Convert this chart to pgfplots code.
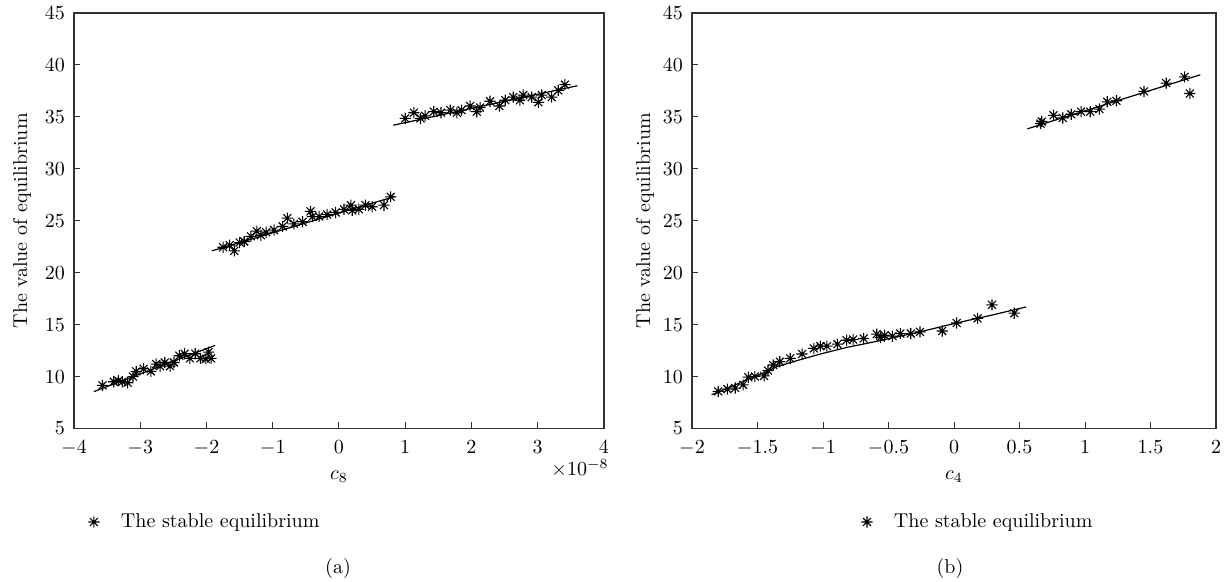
\documentclass[border=0pt]{standalone}
\usepackage{pgfplots}
\pgfplotsset{compat=1.18}
\pgfdeclareplotmark{ast8}{%
  \pgfpathmoveto{\pgfpoint{-\pgfplotmarksize}{0pt}}\pgfpathlineto{\pgfpoint{\pgfplotmarksize}{0pt}}%
  \pgfpathmoveto{\pgfpoint{0pt}{-\pgfplotmarksize}}\pgfpathlineto{\pgfpoint{0pt}{\pgfplotmarksize}}%
  \pgfpathmoveto{\pgfpoint{-0.707\pgfplotmarksize}{-0.707\pgfplotmarksize}}\pgfpathlineto{\pgfpoint{0.707\pgfplotmarksize}{0.707\pgfplotmarksize}}%
  \pgfpathmoveto{\pgfpoint{-0.707\pgfplotmarksize}{0.707\pgfplotmarksize}}\pgfpathlineto{\pgfpoint{0.707\pgfplotmarksize}{-0.707\pgfplotmarksize}}%
  \pgfusepathqstroke}
\pgfplotsset{
  eqax/.style={
    scale only axis, height=207.75pt, anchor=south west,
    ymin=5, ymax=45, ytick={5,10,...,45},
    xtick pos=bottom, ytick pos=left, tick align=inside,
    major tick length=3pt,
    axis line style={line width=0.6pt, black!80},
    every tick/.style={black!80, line width=0.5pt},
    xticklabel style={yshift=-2.5pt},
    yticklabel style={xshift=-1pt},
    ylabel={The value of equilibrium},
    ylabel style={at={(axis description cs:0,0.5)}, anchor=center},
    xlabel style={at={(axis description cs:0.5,0)}, anchor=center, yshift=-24.25pt},
    legend style={draw=none, fill=none, anchor=west, font=\normalsize},
    legend cell align=left,
    legend image code/.code={%
      \draw[#1, only marks] plot coordinates {(0pt,0pt)};
      \path[draw=none, fill=none] (-2.8pt,0pt) -- (11.5pt,0pt);},
  },
  pts/.style={only marks, mark=ast8, mark size=2.8pt, mark options={line width=0.55pt, black}},
  fit/.style={black, line width=0.6pt, no marks},
}
\begin{document}
\begin{tikzpicture}
\useasboundingbox (0,0) rectangle (614.5pt,291pt);
% ---------- (a)
\begin{axis}[eqax, at={(37pt,76.75pt)}, width=265pt,
  xmin=-4, xmax=4, xtick={-4,-3,...,4},
  xlabel={$c_8$},
  ylabel style={yshift=26pt},
  legend style={at={(axis description cs:0.015,-0.225)}}]
\addplot[pts] coordinates {
(-3.57,9.15) (-3.40,9.5) (-3.33,9.6) (-3.27,9.5) (-3.19,9.4) (-3.11,10.0) (-3.06,10.5)
(-2.95,10.75) (-2.84,10.5) (-2.76,11.2) (-2.70,11.0) (-2.63,11.35) (-2.55,11.0) (-2.49,11.35)
(-2.41,12.0) (-2.33,12.2) (-2.25,11.75) (-2.17,12.2) (-2.09,11.75) (-2.01,11.7) (-1.97,12.35) (-1.93,11.75)
(-1.75,22.45) (-1.65,22.65) (-1.58,22.1) (-1.50,22.9) (-1.43,23.0) (-1.33,23.5) (-1.24,24.0)
(-1.18,23.6) (-1.10,23.9) (-0.98,24.1) (-0.85,24.45) (-0.78,25.25) (-0.68,24.7) (-0.55,24.9)
(-0.43,25.9) (-0.40,25.4) (-0.30,25.4) (-0.18,25.6) (-0.05,25.8) (0.075,26.1) (0.18,26.5)
(0.20,26.0) (0.30,26.1) (0.40,26.5) (0.50,26.35) (0.68,26.5) (0.78,27.3)
(1.00,34.85) (1.13,35.4) (1.23,34.85) (1.30,35.1) (1.43,35.5) (1.54,35.4) (1.68,35.65)
(1.78,35.4) (1.85,35.65) (1.98,36.05) (2.08,35.5) (2.13,35.9) (2.28,36.5) (2.42,36.05)
(2.51,36.6) (2.63,36.9) (2.73,36.6) (2.78,37.1) (2.91,36.9) (3.01,36.4) (3.06,37.1)
(3.21,36.9) (3.31,37.55) (3.41,38.1)
};
\addlegendentry{The stable equilibrium}
\addplot[fit, forget plot] coordinates {(-3.70,8.55) (-1.87,13.0)};
\addplot[fit, forget plot] coordinates {(-1.92,22.1) (0.85,27.35)};
\addplot[fit, forget plot] coordinates {(0.82,34.2) (3.60,38.0)};
\end{axis}
\node at (290pt,57pt) {$\times 10^{-8}$};
\node at (169pt,6.5pt) {(a)};
% ---------- (b)
\begin{axis}[eqax, at={(346pt,76.75pt)}, width=262pt,
  xmin=-2, xmax=2, xtick={-2,-1.5,...,2},
  xlabel={$c_4$},
  ylabel style={yshift=23.5pt},
  legend style={at={(axis description cs:0.311,-0.225)}}]
\addplot[pts] coordinates {
(-1.80,8.57) (-1.73,8.79) (-1.67,8.89) (-1.61,9.20) (-1.57,9.94) (-1.52,10.0) (-1.45,10.06)
(-1.42,10.57) (-1.38,11.11) (-1.33,11.43) (-1.25,11.75) (-1.16,12.17) (-1.07,12.71)
(-1.02,12.93) (-0.97,12.93) (-0.89,13.12) (-0.82,13.5) (-0.77,13.57) (-0.69,13.66)
(-0.59,14.08) (-0.56,13.76) (-0.53,13.98) (-0.47,13.89) (-0.41,14.14) (-0.33,14.14)
(-0.26,14.3) (-0.09,14.39) (0.02,15.16) (0.18,15.6) (0.29,16.9) (0.46,16.1)
(0.66,34.35) (0.67,34.55) (0.76,35.15) (0.83,34.9) (0.895,35.25) (0.97,35.5) (1.04,35.5)
(1.11,35.75) (1.17,36.45) (1.24,36.55) (1.45,37.45) (1.62,38.25) (1.76,38.85) (1.80,37.25)
};
\addlegendentry{The stable equilibrium}
\addplot[fit, forget plot] coordinates {(-1.85,8.25) (-1.58,9.68) (-1.43,10.48) (-1.35,10.96)
 (-1.20,11.53) (-1.02,12.17) (-0.82,12.8) (-0.61,13.34) (-0.46,13.76) (-0.26,14.3)
 (0.02,15.16) (0.30,15.95) (0.55,16.7)};
\addplot[fit, forget plot] coordinates {(0.56,33.85) (1.88,39.05)};
\end{axis}
\node at (475pt,6.5pt) {(b)};
\end{tikzpicture}
\end{document}
